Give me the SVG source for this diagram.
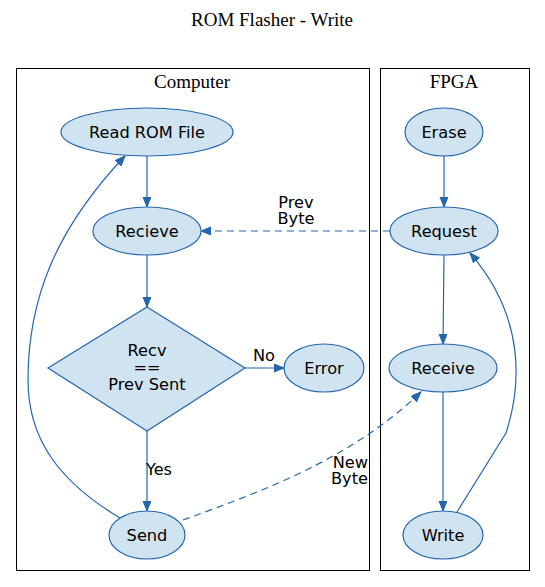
<svg xmlns="http://www.w3.org/2000/svg" width="545" height="587" viewBox="0 0 545 587">
<style>
.cl{fill:none;stroke:#000;stroke-width:1}
.nd{fill:#d0e3f0;stroke:#2466ae;stroke-width:1.2}
.t{font-family:"DejaVu Sans",sans-serif;font-size:16.2px;fill:#000;text-anchor:middle}
.s{font-family:"Liberation Serif",serif;font-size:19px;fill:#000;text-anchor:middle}
.e{fill:none;stroke:#2466ae;stroke-width:1.2}
.d{stroke-dasharray:7,5}
</style>
<defs>
<marker id="a" markerUnits="userSpaceOnUse" markerWidth="12" markerHeight="10" refX="10" refY="4" orient="auto">
<path d="M0,0 L10,4 L0,8 Z" fill="#2466ae" stroke="#2466ae"/>
</marker>
</defs>
<rect width="545" height="587" fill="#fff"/>
<text class="s" x="272" y="26">ROM Flasher - Write</text>
<g id="cluster_computer">
<rect class="cl" x="16.5" y="68.5" width="353" height="502"/>
<text class="s" x="192" y="88">Computer</text>
</g>
<g id="cluster_fpga">
<rect class="cl" x="380.5" y="68.5" width="149" height="502"/>
<text class="s" x="454" y="88">FPGA</text>
</g>
<g id="edges">
<path class="e" d="M147,156 L147,207" marker-end="url(#a)"/>
<path class="e" d="M147,255 L147,307" marker-end="url(#a)"/>
<path class="e" d="M245,368 L284,368" marker-end="url(#a)"/>
<text class="t" x="264" y="361">No</text>
<path class="e" d="M147,431 L147,511" marker-end="url(#a)"/>
<text class="t" x="159" y="475">Yes</text>
<path class="e" d="M120,518 C60,482 28,440 28,380 C28,300 55,230 125,156" marker-end="url(#a)"/>
<path class="e d" d="M390,231 L201,231" marker-end="url(#a)"/>
<text class="t" x="296" y="208">Prev</text>
<text class="t" x="296" y="224">Byte</text>
<path class="e d" d="M183,520 C260,492 350,460 421,392" marker-end="url(#a)"/>
<text class="t" x="368" y="468" style="text-anchor:end">New</text>
<text class="t" x="368" y="484" style="text-anchor:end">Byte</text>
<path class="e" d="M444,156 L444,207" marker-end="url(#a)"/>
<path class="e" d="M444,255 L443,344" marker-end="url(#a)"/>
<path class="e" d="M443,392 L443,511" marker-end="url(#a)"/>
<path class="e" d="M457,512 L506,433 C520,390 528,320 470,253" marker-end="url(#a)"/>
</g>
<g id="read_rom_file">
<ellipse class="nd" cx="147" cy="132" rx="86" ry="24"/>
<text class="t" x="147" y="138">Read ROM File</text>
</g>
<g id="recieve">
<ellipse class="nd" cx="147" cy="231" rx="54" ry="24"/>
<text class="t" x="147" y="237">Recieve</text>
</g>
<g id="compare">
<polygon class="nd" points="147,307 245,368 147,431 48,368"/>
<text class="t" x="147" y="356">Recv</text>
<text class="t" x="147" y="373">==</text>
<text class="t" x="147" y="390">Prev Sent</text>
</g>
<g id="error">
<ellipse class="nd" cx="324" cy="368" rx="40" ry="24"/>
<text class="t" x="324" y="374">Error</text>
</g>
<g id="send">
<ellipse class="nd" cx="147" cy="535" rx="38" ry="24"/>
<text class="t" x="147" y="541">Send</text>
</g>
<g id="erase">
<ellipse class="nd" cx="444" cy="132" rx="39" ry="24"/>
<text class="t" x="444" y="138">Erase</text>
</g>
<g id="request">
<ellipse class="nd" cx="444" cy="231" rx="54" ry="24"/>
<text class="t" x="444" y="237">Request</text>
</g>
<g id="receive">
<ellipse class="nd" cx="443" cy="368" rx="54" ry="24"/>
<text class="t" x="443" y="374">Receive</text>
</g>
<g id="write">
<ellipse class="nd" cx="443" cy="535" rx="40" ry="24"/>
<text class="t" x="443" y="541">Write</text>
</g>
</svg>
